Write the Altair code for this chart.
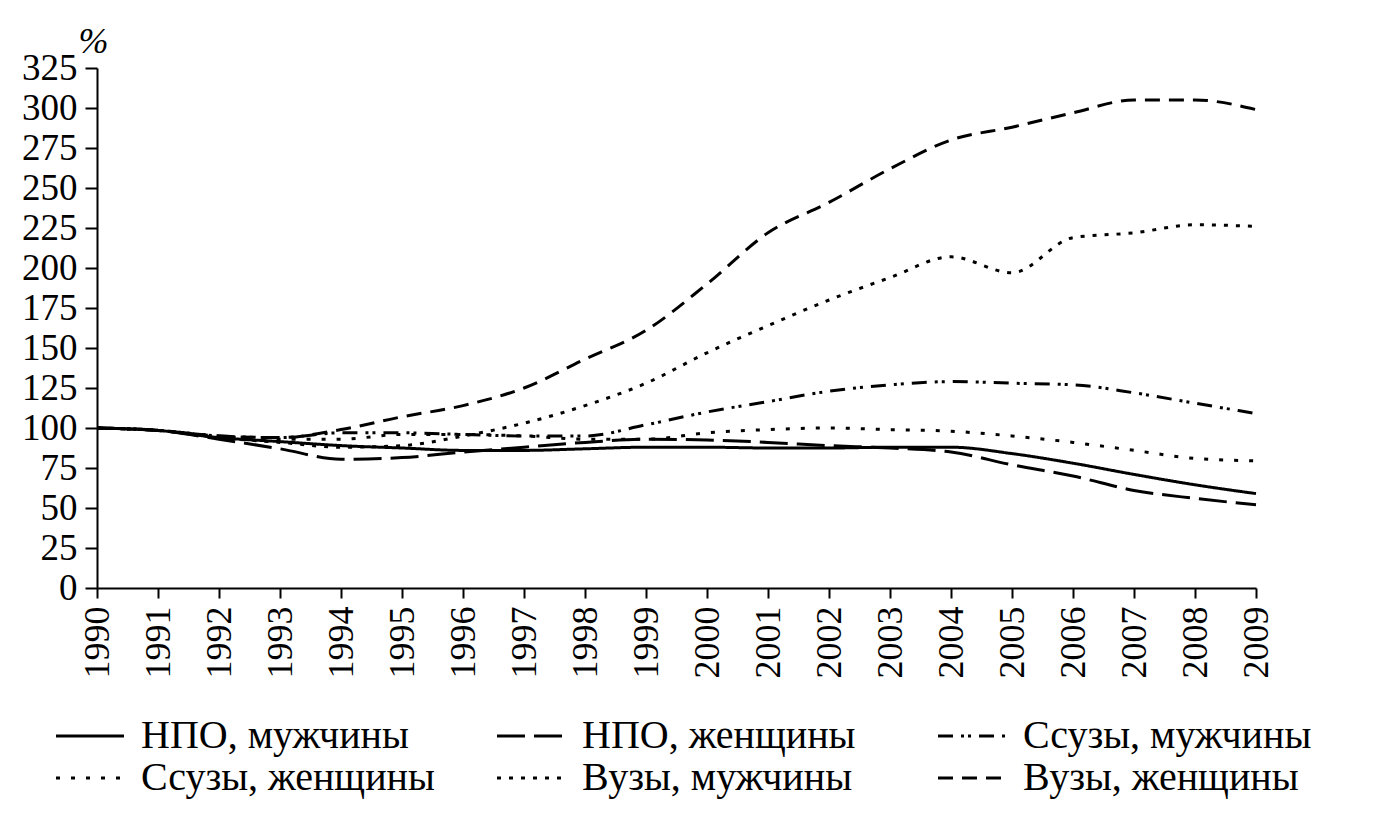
import altair as alt
import pandas as pd

years = list(range(1990, 2010))
series_names = ["НПО, мужчины", "НПО, женщины", "Ссузы, мужчины",
                "Ссузы, женщины", "Вузы, мужчины", "Вузы, женщины"]

npo_m = [100, 98.5, 94, 91.5, 89, 87.5, 86, 86, 87, 88, 88, 87.5, 87.5, 88, 88, 84, 78, 71, 64.5, 59]
npo_w = [100, 98.5, 93, 87, 80.5, 81.5, 85, 88, 91, 93, 92.5, 91, 89, 87.5, 85, 77, 70, 61, 56, 52]
ssuz_m = [100, 98.5, 95, 94, 97, 97, 96, 95, 95, 102, 110, 116.5, 123, 127, 129, 128, 127, 122, 115.5, 109]
ssuz_w = [100, 98.5, 95, 93, 93, 96, 96, 95, 93, 93, 97, 99, 100, 99, 98, 95, 91, 86, 81, 79.5]
vuz_m = [100, 98.5, 94, 91, 88, 89, 95, 103, 114, 128, 147, 164, 180, 194, 207, 197, 219, 222, 227, 226]
vuz_w = [100, 98.5, 95, 94, 99, 107, 114, 125, 143, 161, 190, 222, 241, 262, 280, 288, 297, 305, 305, 299]

all_series = [npo_m, npo_w, ssuz_m, ssuz_w, vuz_m, vuz_w]
dashes = [[1, 0], [28, 9], [15, 8, 3, 4, 3, 8], [4, 11], [4, 8], [15, 9]]
y_ticks = list(range(0, 326, 25))

rows = []
for name, vals in zip(series_names, all_series):
    for yr, v in zip(years, vals):
        rows.append({"year": yr, "value": v, "series": name})
df = pd.DataFrame(rows)

FONT = "Liberation Serif"

chart = alt.Chart(df).mark_line(
    interpolate="monotone", strokeWidth=3, color="black"
).encode(
    x=alt.X("year:Q",
            scale=alt.Scale(domain=[1990, 2009], nice=False, zero=False),
            axis=alt.Axis(values=years, format="d", labelAngle=270, title=None,
                          labelFont=FONT, labelFontSize=36, labelColor="black",
                          labelPadding=8, tickSize=10, tickWidth=2, tickColor="black",
                          domainColor="black", domainWidth=2, grid=False,
                          labelOverlap=False, labelFlush=False)),
    y=alt.Y("value:Q",
            scale=alt.Scale(domain=[0, 325], nice=False),
            axis=alt.Axis(values=y_ticks, title="%", titleAngle=0,
                          titleX=-4, titleY=-16, titleAlign="center",
                          titleBaseline="alphabetic", titleFont=FONT,
                          titleFontSize=36, titleFontStyle="italic",
                          titleFontWeight="normal", titleColor="black",
                          labelFont=FONT, labelFontSize=37, labelColor="black",
                          labelPadding=8, tickSize=12, tickWidth=2, tickColor="black",
                          domainColor="black", domainWidth=2, grid=False,
                          labelOverlap=False, labelFlush=False)),
    strokeDash=alt.StrokeDash(
        "series:N",
        scale=alt.Scale(domain=series_names, range=dashes),
        legend=alt.Legend(title=None, orient="none", legendX=-27, legendY=648,
                          direction="horizontal", gridAlign="all",
                          columns=3, symbolType="M-2,0L2,0", symbolSize=1156,
                          symbolStrokeWidth=3, symbolStrokeColor="black",
                          symbolFillColor="transparent",
                          labelFont=FONT, labelFontSize=40, labelColor="black",
                          labelOffset=31, columnPadding=56, rowPadding=2,
                          labelLimit=500)),
).properties(
    width=1159, height=520,
    background="white",
    autosize=alt.AutoSizeParams(type="none"),
    padding={"left": 89, "top": 60, "right": 80, "bottom": 225},
).configure_view(strokeWidth=0)

chart.save("out.html", embed_options={"renderer": "svg", "actions": False})
